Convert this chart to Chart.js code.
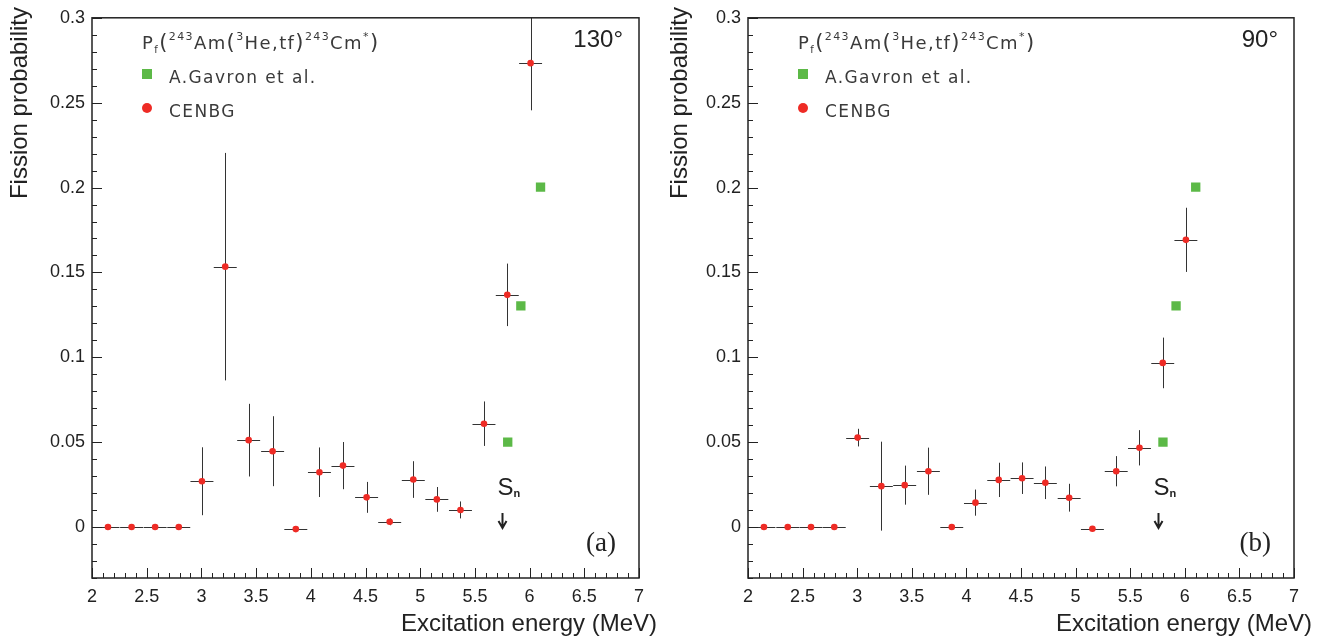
<!DOCTYPE html>
<html>
<head>
<meta charset="utf-8">
<script src="https://cdn.jsdelivr.net/npm/chart.js@4.4.1/dist/chart.umd.min.js"></script>
<style>
  body { margin: 0; background: #fff; }
  canvas { position: absolute; top: 0; }
</style>
</head>
<body>
<canvas id="left" width="660" height="640" style="left:0"></canvas>
<canvas id="right" width="677" height="640" style="left:660px"></canvas>
<script>
// axis ticks
const xTickValues = [2, 2.5, 3, 3.5, 4, 4.5, 5, 5.5, 6, 6.5, 7];
const xTickLabels = ['2', '2.5', '3', '3.5', '4', '4.5', '5', '5.5', '6', '6.5', '7'];
const yTickValues = [0, 0.05, 0.1, 0.15, 0.2, 0.25, 0.3];
const yTickLabels = ['0', '0.05', '0.1', '0.15', '0.2', '0.25', '0.3'];

// CENBG, 130 deg
const energy130 = [2.146, 2.362, 2.577, 2.793, 3.005, 3.218, 3.432, 3.651, 3.863, 4.079, 4.294, 4.51, 4.721, 4.937, 5.152, 5.368, 5.583, 5.796, 6.009];
const prob130 = [0, 0, 0, 0, 0.027, 0.1534, 0.0512, 0.0447, -0.0012, 0.0323, 0.0362, 0.0175, 0.0031, 0.028, 0.0163, 0.0101, 0.0609, 0.1368, 0.2733];
const err130 = [0, 0, 0, 0, 0.020, 0.067, 0.0214, 0.0206, 0, 0.0146, 0.0139, 0.0091, 0.002, 0.0108, 0.0073, 0.005, 0.0131, 0.0184, 0.0278];

// CENBG, 90 deg
const energy90 = [2.146, 2.364, 2.577, 2.79, 3.004, 3.221, 3.435, 3.652, 3.866, 4.083, 4.296, 4.51, 4.723, 4.941, 5.154, 5.372, 5.585, 5.798, 6.01];
const prob90 = [0, 0, 0, 0, 0.0527, 0.0241, 0.0247, 0.0329, 0, 0.0144, 0.0278, 0.0288, 0.0261, 0.0173, -0.001, 0.0329, 0.0467, 0.0967, 0.1692];
const err90 = [0, 0, 0, 0, 0.0052, 0.0262, 0.0115, 0.0139, 0, 0.0077, 0.0101, 0.0093, 0.0096, 0.0082, 0, 0.0089, 0.0104, 0.0149, 0.0189];

// A.Gavron et al. (same in both panels)
const gavronEnergy = [5.80, 5.92, 6.10];
const gavronProb = [0.05, 0.1303, 0.2003];

const seriesNames = ['A.Gavron et al.', 'CENBG'];
const xHalfBin = 0.105;
const snEnergy = 5.75;

const RED = '#ee2b25';
const GREEN = '#5cb947';
const INK = '#222';

function richText(ctx, x, y, parts) {
  parts.forEach(p => {
    ctx.font = p[1] + 'px "DejaVu Sans"';
    ctx.fillText(p[0], x, y + (p[2] || 0));
    x += ctx.measureText(p[0]).width + (p[3] || 0);
  });
}

function makePanel(id, energy, prob, err, angle, letter, yWidth, padRight) {
  const rootStyle = {
    id: 'rootStyle',
    beforeDatasetsDraw(chart) {
      const { ctx, chartArea: a, scales: { x, y } } = chart;
      ctx.save();
      ctx.beginPath();
      ctx.rect(a.left, a.top, a.right - a.left, a.bottom - a.top);
      ctx.clip();
      ctx.strokeStyle = '#333';
      ctx.lineWidth = 1;
      energy.forEach((e, i) => {
        const px = Math.round(x.getPixelForValue(e)) + 0.5;
        const py = Math.round(y.getPixelForValue(prob[i])) + 0.5;
        ctx.beginPath();
        ctx.moveTo(x.getPixelForValue(e - xHalfBin), py);
        ctx.lineTo(x.getPixelForValue(e + xHalfBin), py);
        if (err[i] > 0) {
          ctx.moveTo(px, y.getPixelForValue(prob[i] + err[i]));
          ctx.lineTo(px, y.getPixelForValue(prob[i] - err[i]));
        }
        ctx.stroke();
      });
      ctx.restore();
    },
    afterDraw(chart) {
      const { ctx, chartArea: a, scales: { x, y } } = chart;
      ctx.save();
      // frame
      ctx.strokeStyle = INK;
      ctx.lineWidth = 1.5;
      ctx.strokeRect(a.left, a.top, a.right - a.left, a.bottom - a.top);
      // inner ticks
      ctx.lineWidth = 1;
      ctx.beginPath();
      for (let i = 0; i <= 50; i++) {
        const px = Math.round(x.getPixelForValue(2 + i * 0.1)) + 0.5;
        ctx.moveTo(px, a.bottom);
        ctx.lineTo(px, a.bottom - (i % 5 === 0 ? 10 : 5));
      }
      for (let i = -3; i <= 30; i++) {
        const py = Math.round(y.getPixelForValue(i * 0.01)) + 0.5;
        ctx.moveTo(a.left, py);
        ctx.lineTo(a.left + (i % 5 === 0 ? 10 : 5), py);
      }
      ctx.stroke();

      // axis titles
      ctx.fillStyle = INK;
      ctx.font = '24px "Liberation Sans"';
      ctx.textAlign = 'right';
      ctx.textBaseline = 'alphabetic';
      ctx.fillText('Excitation energy (MeV)', a.right + 18, 631);
      ctx.save();
      ctx.translate(27, 7);
      ctx.rotate(-Math.PI / 2);
      ctx.fillText('Fission probability', 0, 0);
      ctx.restore();

      // angle + panel letter
      ctx.font = '24px "Liberation Sans"';
      ctx.fillText(angle, a.right - 16, 47);
      ctx.font = '27px "Liberation Serif"';
      ctx.fillText(letter, a.right - 23, 551);

      // legend
      ctx.textAlign = 'left';
      ctx.fillStyle = '#3a3a3a';
      ctx.letterSpacing = '1.4px';
      richText(ctx, a.left + 50, 49, [
        ['P', 18], ['f', 10, 4], ['(', 21], ['243', 11, -9], ['Am', 18], ['(', 21],
        ['3', 11, -9], ['He,tf', 18], [')', 21], ['243', 11, -9], ['Cm', 18], ['*', 11, -9], [')', 21]
      ]);
      ctx.font = '17px "DejaVu Sans"';
      ctx.fillText(seriesNames[0], a.left + 77, 83);
      ctx.fillText(seriesNames[1], a.left + 77, 117);
      ctx.letterSpacing = '0px';
      ctx.fillStyle = GREEN;
      ctx.fillRect(a.left + 50, 69, 10, 10);
      ctx.fillStyle = RED;
      ctx.beginPath();
      ctx.arc(a.left + 55, 108, 5, 0, Math.PI * 2);
      ctx.fill();

      // neutron separation energy
      const sx = Math.round(x.getPixelForValue(snEnergy)) + 0.5;
      ctx.fillStyle = INK;
      ctx.font = '24px "Liberation Sans"';
      ctx.fillText('S', sx - 5, 495);
      ctx.font = 'bold 11px "Liberation Sans"';
      ctx.fillText('n', sx + 11, 497);
      ctx.strokeStyle = INK;
      ctx.lineWidth = 2;
      ctx.beginPath();
      ctx.moveTo(sx, 513);
      ctx.lineTo(sx, 527);
      ctx.moveTo(sx - 4, 521);
      ctx.lineTo(sx, 528);
      ctx.lineTo(sx + 4, 521);
      ctx.stroke();
      ctx.restore();
    }
  };

  return new Chart(document.getElementById(id), {
    type: 'scatter',
    data: {
      datasets: [
        {
          label: seriesNames[1],
          data: energy.map((e, i) => ({ x: e, y: prob[i] })),
          pointStyle: 'circle',
          pointRadius: 3.3,
          backgroundColor: RED,
          borderWidth: 0
        },
        {
          label: seriesNames[0],
          data: gavronEnergy.map((e, i) => ({ x: e, y: gavronProb[i] })),
          pointStyle: 'rect',
          pointRadius: 6.6,
          backgroundColor: GREEN,
          borderWidth: 0
        }
      ]
    },
    options: {
      responsive: false,
      animation: false,
      devicePixelRatio: 1,
      layout: { padding: { top: 15, right: padRight, left: 0, bottom: 0 } },
      plugins: { legend: { display: false }, tooltip: { enabled: false } },
      scales: {
        x: {
          type: 'linear',
          min: 2,
          max: 7,
          afterBuildTicks: s => { s.ticks = xTickValues.map(v => ({ value: v })); },
          afterFit: s => { s.height = 62; },
          grid: { display: false, drawTicks: false },
          border: { display: false },
          ticks: {
            padding: 8,
            color: INK,
            font: { family: 'Liberation Sans', size: 18 },
            maxRotation: 0,
            autoSkip: false,
            callback: (v, i) => xTickLabels[i]
          }
        },
        y: {
          type: 'linear',
          min: -0.03,
          max: 0.3,
          afterBuildTicks: s => { s.ticks = yTickValues.map(v => ({ value: v })); },
          afterFit: s => { s.width = yWidth; },
          grid: { display: false, drawTicks: false },
          border: { display: false },
          ticks: {
            padding: 7,
            color: INK,
            font: { family: 'Liberation Sans', size: 18 },
            autoSkip: false,
            callback: (v, i) => yTickLabels[i]
          }
        }
      }
    },
    plugins: [rootStyle]
  });
}

makePanel('left', energy130, prob130, err130, '130°', '(a)', 92, 21);
makePanel('right', energy90, prob90, err90, '90°', '(b)', 88, 43);
</script>
</body>
</html>
